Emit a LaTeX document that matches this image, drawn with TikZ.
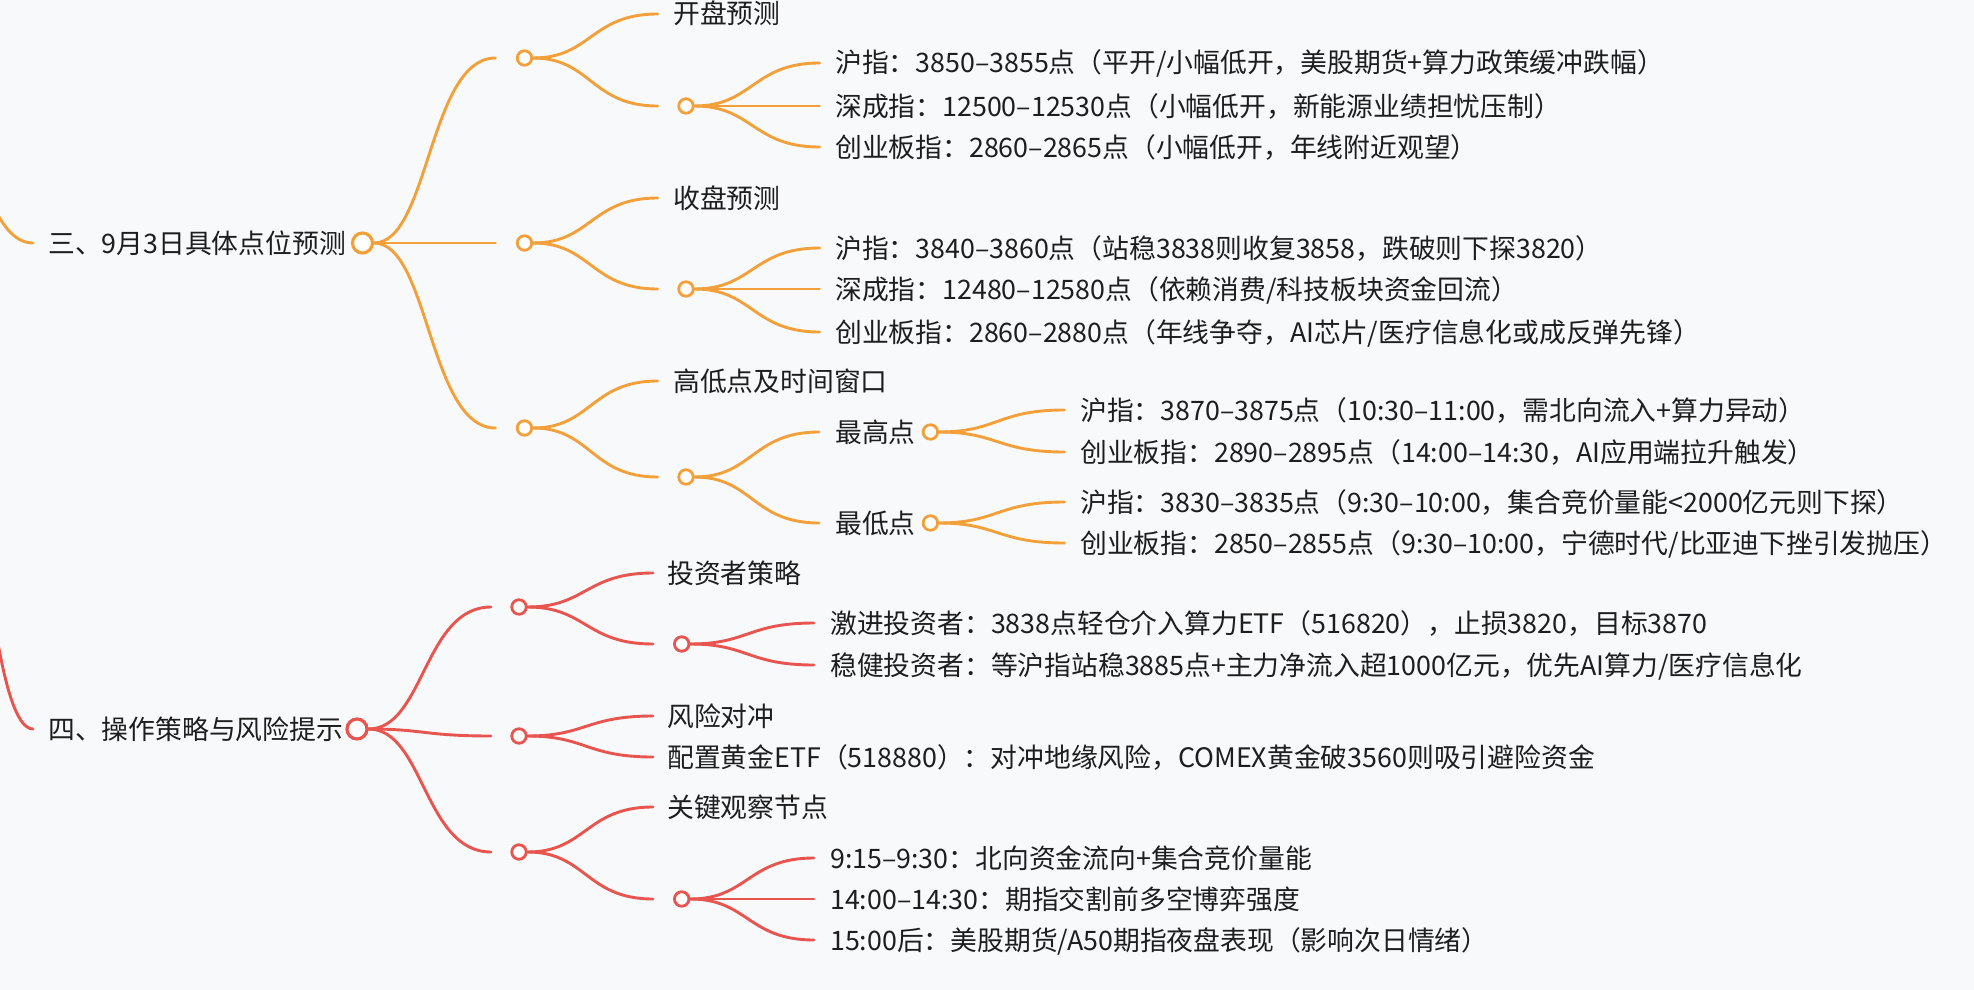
\documentclass[tikz,border=0pt]{standalone}
\usepackage{fontspec}
\newfontfamily\cjk{Noto Sans CJK SC}
\usetikzlibrary{calc}
\pgfdeclarelayer{bglayer}
\pgfsetlayers{bglayer,main}
\definecolor{bg}{HTML}{F8F9FB}
\definecolor{orn}{HTML}{F4A03A}
\definecolor{rd}{HTML}{E8554F}
\definecolor{ink}{HTML}{1E1E1E}
\newcommand\hlink[3]{\draw[link,#1] let \p1=(#2),\p2=(#3) in (#2) .. controls ({0.5*\x1+0.5*\x2},\y1) and ({0.5*\x1+0.5*\x2},\y2) .. (#3);}
\tikzset{
  link/.style={line width=2.9pt, line cap=round},
  dot/.style={circle, draw, fill=white, line width=2.8pt, inner sep=0pt, minimum size=14.5pt},
  bigdot/.style={dot, minimum size=20pt, line width=3.2pt},
  lbl/.style={anchor=base west, inner sep=0pt, text=ink, font=\cjk\fontsize{26.8}{30}\selectfont},
}
\begin{document}
\begin{tikzpicture}[x=1pt,y=-1pt]
\useasboundingbox (0,0) rectangle (1974,990);
% ---------- coordinates ----------
\coordinate (P) at (-100,8);
\coordinate (in1) at (33,243);
\coordinate (in2) at (33,729);
% orange branch
\coordinate (ae) at (495.5,58);
\coordinate (be) at (495.5,243);
\coordinate (ce) at (495.5,428);
\coordinate (a1) at (657.6,14);
\coordinate (a2) at (657.6,106);
\coordinate (b1) at (657.6,198);
\coordinate (b2) at (657.6,289);
\coordinate (c1) at (657.6,381);
\coordinate (c2) at (657.6,477);
\coordinate (aa1) at (819.6,63);
\coordinate (aa2) at (819.6,106);
\coordinate (aa3) at (819.6,147);
\coordinate (bb1) at (819.6,248);
\coordinate (bb2) at (819.6,289);
\coordinate (bb3) at (819.6,332);
\coordinate (cc1) at (819,432);
\coordinate (cc2) at (819,523);
\coordinate (h1) at (1064.4,410);
\coordinate (h2) at (1064.4,452);
\coordinate (l1) at (1064.4,502);
\coordinate (l2) at (1064.4,543);
% red branch
\coordinate (de) at (491,607);
\coordinate (ee) at (491,736);
\coordinate (fe) at (491,852);
\coordinate (d1) at (653,573);
\coordinate (d2) at (653,644);
\coordinate (e1) at (653,716);
\coordinate (e2) at (653,757);
\coordinate (f1) at (653,807);
\coordinate (f2) at (653,899);
\coordinate (dd1) at (814,623);
\coordinate (dd2) at (814,665);
\coordinate (ff1) at (814,858);
\coordinate (ff2) at (814,899);
\coordinate (ff3) at (814,940);
% ---------- circle nodes ----------
\node[bigdot, draw=orn] (R1) at (362.5,243) {};
\node[dot, draw=orn] (A) at (524.5,58) {};
\node[dot, draw=orn] (B) at (524.5,243) {};
\node[dot, draw=orn] (C) at (524.5,428) {};
\node[dot, draw=orn] (A1) at (686,106) {};
\node[dot, draw=orn] (B1) at (686,289) {};
\node[dot, draw=orn] (C1) at (686,477) {};
\node[dot, draw=orn] (H) at (930.4,432) {};
\node[dot, draw=orn] (L) at (930.4,523) {};
\node[bigdot, draw=rd] (R2) at (357,729) {};
\node[dot, draw=rd] (D) at (519,607) {};
\node[dot, draw=rd] (E) at (519,736) {};
\node[dot, draw=rd] (F) at (519,852) {};
\node[dot, draw=rd] (D1) at (681.7,644) {};
\node[dot, draw=rd] (F1) at (681.7,899) {};
% ---------- text nodes ----------
\node[lbl] (tR1) at (48,253) {三、9月3日具体点位预测};
\node[lbl] (tA1) at (673,24) {开盘预测};
\node[lbl] (tAA1) at (835,73) {沪指：3850–3855点（平开/小幅低开，美股期货+算力政策缓冲跌幅）};
\node[lbl] (tAA2) at (835,116) {深成指：12500–12530点（小幅低开，新能源业绩担忧压制）};
\node[lbl] (tAA3) at (835,157) {创业板指：2860–2865点（小幅低开，年线附近观望）};
\node[lbl] (tB1) at (673,208) {收盘预测};
\node[lbl] (tBB1) at (835,258) {沪指：3840–3860点（站稳3838则收复3858，跌破则下探3820）};
\node[lbl] (tBB2) at (835,299) {深成指：12480–12580点（依赖消费/科技板块资金回流）};
\node[lbl] (tBB3) at (835,342) {创业板指：2860–2880点（年线争夺，AI芯片/医疗信息化或成反弹先锋）};
\node[lbl] (tC1) at (673,391) {高低点及时间窗口};
\node[lbl] (tH) at (835,442) {最高点};
\node[lbl] (tL) at (835,533) {最低点};
\node[lbl] (tH1) at (1080,420) {沪指：3870–3875点（10:30–11:00，需北向流入+算力异动）};
\node[lbl] (tH2) at (1080,462) {创业板指：2890–2895点（14:00–14:30，AI应用端拉升触发）};
\node[lbl] (tL1) at (1080,512) {沪指：3830–3835点（9:30–10:00，集合竞价量能<2000亿元则下探）};
\node[lbl] (tL2) at (1080,553) {创业板指：2850–2855点（9:30–10:00，宁德时代/比亚迪下挫引发抛压）};
\node[lbl] (tR2) at (48,739) {四、操作策略与风险提示};
\node[lbl] (tD1) at (667,583) {投资者策略};
\node[lbl] (tDD1) at (830,633) {激进投资者：3838点轻仓介入算力ETF（516820），止损3820，目标3870};
\node[lbl] (tDD2) at (830,675) {稳健投资者：等沪指站稳3885点+主力净流入超1000亿元，优先AI算力/医疗信息化};
\node[lbl] (tE1) at (667,726) {风险对冲};
\node[lbl] (tE2) at (667,767) {配置黄金ETF（518880）：对冲地缘风险，COMEX黄金破3560则吸引避险资金};
\node[lbl] (tF1) at (667,817) {关键观察节点};
\node[lbl] (tFF1) at (830,868) {9:15–9:30：北向资金流向+集合竞价量能};
\node[lbl] (tFF2) at (830,909) {14:00–14:30：期指交割前多空博弈强度};
\node[lbl] (tFF3) at (830,950) {15:00后：美股期货/A50期指夜盘表现（影响次日情绪）};
% ---------- links (behind) ----------
\begin{pgfonlayer}{bglayer}
\fill[bg] (0,0) rectangle (1974,990);
\begin{scope}
\clip (0,0) rectangle (1974,990);
\hlink{orn}{P}{in1}
\hlink{rd}{P}{in2}
\hlink{orn}{R1}{ae}
\hlink{orn}{R1}{be}
\hlink{orn}{R1}{ce}
\hlink{orn}{A}{a1}
\hlink{orn}{A}{a2}
\hlink{orn}{B}{b1}
\hlink{orn}{B}{b2}
\hlink{orn}{C}{c1}
\hlink{orn}{C}{c2}
\hlink{orn}{A1}{aa1}
\hlink{orn}{A1}{aa2}
\hlink{orn}{A1}{aa3}
\hlink{orn}{B1}{bb1}
\hlink{orn}{B1}{bb2}
\hlink{orn}{B1}{bb3}
\hlink{orn}{C1}{cc1}
\hlink{orn}{C1}{cc2}
\hlink{orn}{H}{h1}
\hlink{orn}{H}{h2}
\hlink{orn}{L}{l1}
\hlink{orn}{L}{l2}
\hlink{rd}{R2}{de}
\hlink{rd}{R2}{ee}
\hlink{rd}{R2}{fe}
\hlink{rd}{D}{d1}
\hlink{rd}{D}{d2}
\hlink{rd}{E}{e1}
\hlink{rd}{E}{e2}
\hlink{rd}{F}{f1}
\hlink{rd}{F}{f2}
\hlink{rd}{D1}{dd1}
\hlink{rd}{D1}{dd2}
\hlink{rd}{F1}{ff1}
\hlink{rd}{F1}{ff2}
\hlink{rd}{F1}{ff3}
\end{scope}
\end{pgfonlayer}
\end{tikzpicture}
\end{document}
